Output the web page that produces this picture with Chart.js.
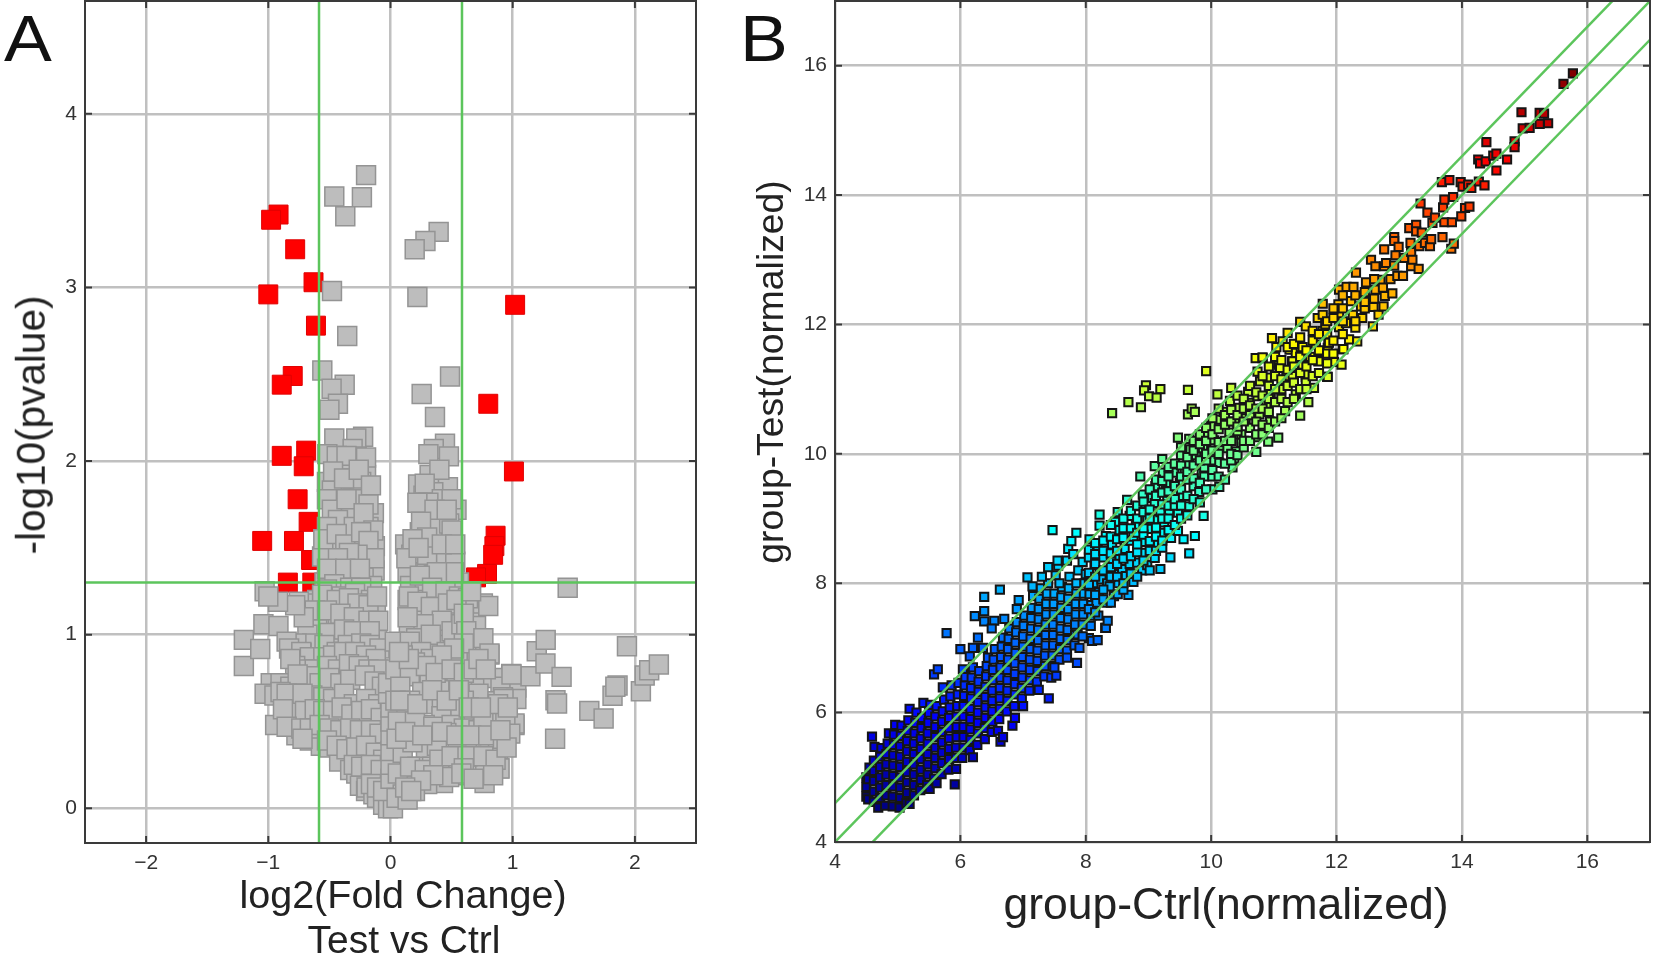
<!DOCTYPE html>
<html>
<head>
<meta charset="utf-8">
<title>Volcano plot and scatter plot</title>
<script src="https://cdn.jsdelivr.net/npm/chart.js@4/dist/chart.umd.min.js"></script>
<style>
  html, body { margin: 0; padding: 0; background: #fff; }
  body { width: 1654px; height: 955px; position: relative; overflow: hidden; font-family: "Liberation Sans", Arial, sans-serif; color: #222; }
  canvas { position: absolute; top: 0; }
  #volcano { left: 0; }
  #scatter { left: 720px; }
  .panel { position: absolute; top: -3px; font-size: 64px; line-height: 84px; color: #111; transform: scaleX(1.12); transform-origin: left top; }
  .title { position: absolute; line-height: 1; white-space: nowrap; transform: translateX(-50%); }
  .title.side { transform: translate(-50%, -50%) rotate(-90deg); }
</style>
</head>
<body>
<canvas id="volcano" width="720" height="955"></canvas>
<canvas id="scatter" width="934" height="955"></canvas>
<div class="panel" style="left:4px">A</div>
<div class="panel" style="left:740px">B</div>
<div class="title" style="left:403px;top:875px;font-size:39.5px">log2(Fold Change)</div>
<div class="title" style="left:404px;top:920px;font-size:39px">Test vs Ctrl</div>
<div class="title side" style="left:31px;top:425px;font-size:40.5px">-log10(pvalue)</div>
<div class="title" style="left:1226px;top:882px;font-size:44.5px">group-Ctrl(normalized)</div>
<div class="title side" style="left:771px;top:372px;font-size:37.3px">group-Test(normalized)</div>
<script>
// Panel A ticks and cut-offs
const foldTicks = [-2, -1, 0, 1, 2];
const pvalueTicks = [0, 1, 2, 3, 4];
const foldCutLeft = [[-0.585, -0.2], [-0.585, 4.65]];
const foldCutRight = [[0.585, -0.2], [0.585, 4.65]];
const pvalueCut = [[-2.5, 1.3], [2.5, 1.3]];

// Panel A: significant genes, [log2 fold change, -log10 p]
const redGenes = [
  [-0.916,3.42],[-0.977,3.39],[-0.78,3.22],[-1.0,2.96],[-0.63,3.03],[-0.61,2.78],[-0.80,2.49],[-0.89,2.44],
  [-0.69,2.06],[-0.89,2.03],[-0.71,1.97],[-0.76,1.78],[-0.67,1.65],[-1.05,1.54],[-0.79,1.54],[-0.65,1.43],
  [-0.84,1.30],[-0.64,1.30],[1.02,2.90],[0.80,2.33],[1.01,1.94],[0.86,1.57],[0.85,1.51],[0.84,1.46],
  [0.79,1.35],[0.70,1.33]
];

// Panel A: all the other genes
const greyGenes = [
  // top outliers
  [-0.20,3.647],[-0.46,3.524],[-0.234,3.52],[-0.37,3.41],[0.394,3.32],[0.286,3.267],[0.198,3.22],[-0.479,2.98],
  [0.22,2.945],[-0.354,2.72],[-0.558,2.522],[-0.375,2.44],[-0.482,2.417],[-0.43,2.33],[-0.50,2.296],[0.487,2.487],
  [0.255,2.386],[0.364,2.254],
  // left column
  [-0.46,2.13],[-0.224,2.14],[-0.28,2.13],[-0.31,2.07],[-0.517,2.04],[-0.278,2.027],[-0.30,2.0],[-0.43,1.95],
  [-0.37,1.98],[-0.2,1.92],[-0.24,1.88],[-0.52,1.88],[-0.386,1.84],[-0.25,1.86],[-0.31,1.9],[-0.48,1.83],
  [-0.435,1.76],[-0.30,1.77],[-0.23,1.78],[-0.4,1.73],[-0.136,1.70],[-0.25,1.66],[-0.38,1.64],[-0.33,1.68],
  [-0.18,1.62],[-0.47,1.66],[-0.52,1.53],[-0.264,1.53],[-0.128,1.51],[-0.40,1.5],[-0.33,1.56],[-0.47,1.48],
  [-0.2,1.46],[-0.473,1.40],[-0.32,1.42],[-0.18,1.42],[-0.56,1.45],[-0.34,1.33],[-0.29,1.31],[-0.13,1.37],
  [-0.42,1.35],[-0.54,1.3],[-0.22,1.33],[-0.15,1.28],
  [-0.44,2.03],[-0.36,2.03],[-0.2,2.02],[-0.47,1.94],[-0.38,1.9],[-0.26,1.95],[-0.16,1.86],[-0.18,1.75],[-0.52,1.78],
  [-0.48,1.72],[-0.36,1.78],[-0.43,1.66],[-0.3,1.62],[-0.22,1.7],[-0.14,1.6],[-0.52,1.62],[-0.55,1.55],[-0.44,1.58],
  [-0.37,1.52],[-0.24,1.59],[-0.18,1.54],[-0.13,1.44],[-0.27,1.46],[-0.34,1.47],[-0.43,1.44],[-0.52,1.38],[-0.37,1.38],
  [-0.25,1.38],[-0.46,1.29],[-0.33,1.27],[-0.24,1.27],
  [-0.52,1.26],[-0.40,1.22],[-0.29,1.24],[-0.16,1.2],[-0.60,1.2],[-0.48,1.15],[-0.35,1.16],[-0.22,1.13],
  [-0.12,1.14],[-0.345,1.10],[-0.54,1.08],[-0.43,1.06],[-0.26,1.05],[-0.14,1.05],[-0.64,1.1],[-0.70,1.18],
  [-0.645,1.07],[-0.75,1.19],[-0.58,0.98],[-0.43,0.96],[-0.33,0.98],[-0.2,0.98],[-0.11,0.97],[-0.5,0.92],
  [-0.26,0.905],[-0.14,0.905],[-0.6,0.88],
  [-0.56,1.23],[-0.44,1.2],[-0.34,1.21],[-0.27,1.18],[-0.18,1.17],[-0.11,1.22],[-0.62,1.14],[-0.52,1.14],[-0.41,1.12],
  [-0.3,1.1],[-0.18,1.08],[-0.1,1.08],[-0.6,1.03],[-0.5,1.01],[-0.38,1.03],[-0.3,1.02],[-0.17,1.02],[-0.68,1.0],
  [-0.64,0.95],[-0.54,0.94],[-0.44,0.9],[-0.35,0.94],[-0.24,0.95],[-0.17,0.94],[-0.09,0.92],[-0.77,0.95],[-0.71,1.1],[-0.78,1.17],
  // left wing
  [-1.2,0.97],[-1.2,0.82],[-1.04,1.06],[-1.066,0.918],[-0.917,1.05],[-0.85,0.96],[-1.03,1.25],[-0.92,1.19],
  [-1.0,1.22],[-0.727,0.895],[-0.74,0.84],
  // lower left
  [-0.83,0.92],[-0.73,0.9],[-0.66,0.87],[-0.55,0.87],[-0.47,0.88],[-0.38,0.9],[-0.29,0.9],[-0.2,0.88],[-0.12,0.86],
  [-0.78,0.82],[-0.7,0.8],[-0.62,0.8],[-0.52,0.82],[-0.43,0.8],[-0.34,0.83],[-0.26,0.82],[-0.18,0.8],[-0.1,0.8],
  [-0.98,0.72],[-0.9,0.72],[-0.82,0.7],[-0.74,0.74],[-0.66,0.76],[-0.58,0.72],[-0.5,0.75],[-0.41,0.72],[-0.33,0.74],
  [-0.21,0.765],[-0.13,0.73],[-0.07,0.7],
  [-1.03,0.66],[-0.95,0.65],[-0.876,0.62],[-0.8,0.63],[-0.72,0.6],[-0.64,0.65],[-0.55,0.64],[-0.47,0.63],[-0.38,0.66],
  [-0.3,0.6],[-0.2,0.63],[-0.1,0.6],[-0.05,0.55],
  [-0.944,0.48],[-0.84,0.53],[-0.76,0.52],[-0.68,0.5],[-0.6,0.55],[-0.52,0.52],[-0.44,0.5],[-0.36,0.55],[-0.28,0.5],
  [-0.19,0.52],[-0.12,0.5],[-0.05,0.45],
  [-0.77,0.42],[-0.69,0.44],[-0.62,0.43],[-0.55,0.42],[-0.46,0.42],[-0.38,0.38],[-0.3,0.4],[-0.22,0.41],[-0.14,0.38],
  [-0.07,0.35],[-0.03,0.3],
  [-0.66,0.39],[-0.57,0.36],[-0.5,0.35],[-0.42,0.3],[-0.34,0.3],[-0.26,0.3],[-0.18,0.32],[-0.1,0.27],[-0.04,0.22],
  [-0.42,0.27],[-0.33,0.22],[-0.28,0.2],[-0.2,0.22],[-0.13,0.18],[-0.07,0.16],[-0.03,0.12],
  [-0.25,0.13],[-0.2,0.1],[-0.196,0.12],[-0.14,0.08],[-0.08,0.07],[-0.03,0.05],[-0.02,0.08],
  [-0.11,0.06],[-0.06,0.02],[-0.02,0.0],[0.02,0.0],
  [-0.82,0.86],[-0.76,0.77],[-0.9,0.67],[-0.85,0.66],[-0.78,0.57],[-0.72,0.66],[-0.7,0.56],[-0.62,0.57],[-0.55,0.56],
  [-0.47,0.56],[-0.4,0.58],[-0.32,0.54],[-0.24,0.56],[-0.16,0.57],[-0.08,0.52],[-0.88,0.57],[-0.85,0.47],[-0.73,0.46],
  [-0.66,0.46],[-0.58,0.48],[-0.5,0.46],[-0.41,0.45],[-0.33,0.46],[-0.25,0.45],[-0.16,0.45],[-0.09,0.43],[-0.72,0.4],
  [-0.52,0.39],[-0.44,0.36],[-0.36,0.34],[-0.28,0.35],[-0.2,0.36],[-0.12,0.32],[-0.06,0.28],[-0.3,0.25],[-0.24,0.24],
  [-0.16,0.25],[-0.08,0.22],[-0.16,0.14],[-0.11,0.12],[-0.06,0.1],[0.0,0.17],[0.0,0.25],[0.0,0.33],[0.0,0.42],[0.0,0.5],
  [0.0,0.58],[-0.02,0.66],[-0.02,0.72],
  // right column
  [0.446,2.10],[0.354,2.07],[0.31,2.04],[0.478,2.027],[0.375,1.89],[0.32,1.92],[0.47,1.85],[0.226,1.865],[0.27,1.80],
  [0.35,1.82],[0.54,1.72],[0.29,1.70],[0.44,1.59],[0.24,1.59],[0.12,1.52],[0.35,1.51],[0.17,1.46],[0.48,1.51],
  [0.27,1.385],[0.46,1.355],[0.335,1.345],[0.21,1.26],[0.39,1.26],[0.51,1.28],[0.4,1.66],[0.34,1.62],[0.48,1.64],
  [0.2,1.42],[0.14,1.36],[0.4,1.44],[0.53,1.42],[0.3,1.46],[0.56,1.3],[0.16,1.28],[0.28,1.3],
  [0.26,1.145],[0.39,1.155],[0.185,1.126],[0.35,1.05],[0.2,1.06],[0.46,1.12],[0.53,1.08],[0.29,1.2],[0.14,1.2],
  [0.44,1.0],[0.27,0.99],[0.15,1.02],[0.55,0.98],[0.36,0.94],
  [0.40,1.95],[0.28,1.87],[0.42,1.78],[0.5,1.78],[0.31,1.76],[0.22,1.76],[0.36,1.72],[0.46,1.72],[0.25,1.65],[0.5,1.6],
  [0.3,1.56],[0.18,1.55],[0.13,1.44],[0.23,1.5],[0.42,1.52],[0.53,1.52],[0.52,1.36],[0.38,1.36],[0.24,1.34],[0.15,1.22],
  [0.34,1.27],[0.45,1.25],[0.56,1.22],[0.22,1.19],[0.33,1.16],[0.47,1.18],[0.42,1.08],[0.27,1.06],[0.14,1.1],[0.21,0.98],
  [0.33,1.0],[0.5,1.02],[0.58,1.06],
  // right wing
  [0.675,1.106],[0.756,1.18],[0.8,1.165],[0.70,1.05],[0.634,1.21],[0.54,1.2],[0.6,1.12],[0.62,1.02],[0.66,1.25],
  [0.81,0.885],[0.70,0.895],[0.62,0.88],[0.76,0.98],[0.81,0.891],[0.988,0.774],[1.03,0.695],[1.145,0.76],[1.197,0.905],
  [1.27,0.97],[1.268,0.834],[1.40,0.757],[1.35,0.622],[1.363,0.603],[1.347,0.40],[1.45,1.27],[1.627,0.561],[1.744,0.517],
  [1.817,0.648],[1.858,0.707],[1.84,0.70],[1.935,0.933],[2.049,0.674],[2.08,0.765],[2.117,0.795],[2.196,0.828],
  // lower right
  [0.035,0.96],[0.158,0.96],[0.25,0.9],[0.33,0.86],[0.46,0.9],[0.55,0.85],[0.1,0.88],[0.2,0.84],[0.04,0.8],
  [0.158,0.76],[0.32,0.76],[0.444,0.79],[0.65,0.69],[0.54,0.76],[0.74,0.76],[0.84,0.75],[0.9,0.7],[0.99,0.77],
  [0.92,0.64],[0.78,0.617],[1.03,0.63],[1.015,0.48],[0.925,0.63],[1.015,0.488],[0.72,0.66],[0.6,0.62],[0.5,0.68],
  [0.4,0.68],[0.26,0.67],[0.08,0.7],[0.16,0.62],[0.3,0.6],[0.42,0.6],[0.53,0.58],[0.68,0.54],[0.82,0.54],[0.94,0.5],
  [0.417,0.53],[0.28,0.48],[0.13,0.55],[0.06,0.5],[0.2,0.5],[0.35,0.47],[0.5,0.48],[0.6,0.46],[0.72,0.45],[0.86,0.44],
  [0.457,0.434],[0.29,0.34],[0.10,0.32],[0.18,0.38],[0.38,0.36],[0.55,0.36],[0.66,0.36],[0.78,0.36],[0.88,0.34],[0.05,0.4],
  [0.144,0.166],[0.06,0.2],[0.22,0.24],[0.34,0.24],[0.46,0.26],[0.58,0.28],[0.7,0.26],[0.81,0.26],[0.89,0.23],[0.892,0.229],
  [0.77,0.146],[0.70,0.22],[0.43,0.146],[0.52,0.2],[0.62,0.19],[0.3,0.14],[0.2,0.1],[0.1,0.08],[0.05,0.06],[0.14,0.05],
  [0.6,0.95],[0.52,0.92],[0.42,0.88],[0.29,0.82],[0.15,0.86],[0.07,0.9],[0.37,0.78],[0.5,0.8],[0.6,0.78],[0.68,0.8],
  [0.72,0.86],[0.78,0.8],[0.04,0.62],[0.08,0.62],[0.22,0.6],[0.34,0.68],[0.46,0.62],[0.56,0.68],[0.64,0.58],[0.76,0.5],
  [0.88,0.6],[0.74,0.58],[0.96,0.58],[0.12,0.44],[0.26,0.42],[0.42,0.44],[0.54,0.42],[0.66,0.42],[0.8,0.42],[0.92,0.4],
  [0.98,0.43],[0.16,0.24],[0.28,0.22],[0.4,0.28],[0.5,0.3],[0.63,0.3],[0.76,0.3],[0.86,0.28],[0.95,0.35],[0.9,0.45],
  [0.6,0.23],[0.48,0.18],[0.35,0.19],[0.25,0.16],[0.58,0.2],[0.68,0.17],[0.84,0.19],[0.12,0.12],[0.17,0.1]
];

// Panel B ticks and fold lines
const ctrlTicks = [4, 6, 8, 10, 12, 14, 16];
const testTicks = [4, 6, 8, 10, 12, 14, 16];
const equalLine = [[4, 4], [17, 17]];
const upperLine = [[4, 4.6], [17, 17.6]];
const lowerLine = [[4, 3.4], [17, 16.4]];

// Panel B: [group-Ctrl, group-Test]
const expression = [
  // dense low end
  [4.5,4.7],[4.5,4.85],[4.5,5.0],[4.53,4.66],[4.53,4.97],[4.55,5.15],[4.59,5.63],[4.63,5.47],
  [4.62,4.62],[4.62,4.78],[4.62,4.94],[4.62,5.1],[4.62,5.26],
  [4.69,4.53],[4.72,4.68],[4.72,4.84],[4.72,5.0],[4.72,5.16],[4.72,5.32],[4.74,5.45],
  [4.8,4.56],[4.82,4.72],[4.82,4.88],[4.82,5.04],[4.82,5.2],[4.82,5.36],[4.84,5.52],[4.86,5.68],
  [4.92,4.55],[4.92,4.7],[4.93,4.86],[4.93,5.02],[4.93,5.18],[4.93,5.34],[4.94,5.5],[4.94,5.66],[4.96,5.81],
  [5.03,4.53],[5.04,4.68],[5.04,4.84],[5.04,5.0],[5.04,5.16],[5.04,5.32],[5.04,5.48],[5.05,5.64],[5.06,5.8],
  [5.14,4.6],[5.15,4.76],[5.15,4.92],[5.15,5.08],[5.15,5.24],[5.15,5.4],[5.15,5.56],[5.16,5.72],[5.17,5.88],[5.19,6.06],
  [5.19,4.59],[5.26,4.72],[5.26,4.88],[5.26,5.04],[5.26,5.2],[5.26,5.36],[5.26,5.52],[5.27,5.68],[5.28,5.84],[5.3,6.0],
  [5.36,4.8],[5.37,4.96],[5.37,5.12],[5.37,5.28],[5.37,5.44],[5.37,5.6],[5.38,5.76],[5.39,5.92],[5.41,6.15],
  [5.47,4.88],[5.48,5.04],[5.48,5.2],[5.48,5.36],[5.48,5.52],[5.48,5.68],[5.49,5.84],[5.5,6.0],[5.51,4.82],[5.52,6.12],
  [5.58,4.98],[5.6,5.14],[5.6,5.3],[5.6,5.46],[5.6,5.62],[5.6,5.78],[5.6,5.94],[5.62,6.1],[5.62,4.91],[5.58,6.59],[5.64,6.67],
  [5.7,5.05],[5.71,5.22],[5.71,5.38],[5.71,5.54],[5.71,5.7],[5.71,5.86],[5.72,6.02],[5.72,6.39],[5.74,6.2],[5.78,7.23],
  [5.81,5.12],[5.82,5.28],[5.82,5.44],[5.82,5.6],[5.82,5.76],[5.82,5.92],[5.83,6.08],[5.84,6.25],[5.86,6.42],
  [5.91,4.89],[5.93,5.13],[5.93,5.3],[5.93,5.46],[5.94,5.62],[5.94,5.78],[5.94,5.94],[5.95,6.1],[5.96,6.28],[5.97,6.46],[6.0,6.98],
  [6.03,5.3],[6.05,5.46],[6.05,5.62],[6.05,5.78],[6.05,5.94],[6.05,6.1],[6.06,6.26],[6.07,6.42],[6.04,6.67],[6.08,6.55],
  [6.15,5.42],[6.16,5.58],[6.16,5.74],[6.16,5.9],[6.16,6.06],[6.17,6.22],[6.17,6.38],[6.18,6.54],[6.15,6.87],[6.2,5.31],[6.2,6.7],
  [6.23,7.49],[6.28,7.16],[6.27,5.5],[6.28,5.68],[6.28,5.84],[6.28,6.0],[6.28,6.16],[6.29,6.32],[6.29,6.48],[6.3,6.64],
  [6.38,7.79],[6.38,7.57],[6.38,7.41],[6.36,7.0],[6.39,5.59],[6.39,5.76],[6.4,5.92],[6.4,6.08],[6.4,6.24],[6.4,6.4],[6.41,6.56],[6.42,6.72],[6.44,6.85],
  [6.5,5.7],[6.51,5.86],[6.51,6.02],[6.51,6.18],[6.51,6.34],[6.52,6.5],[6.52,6.66],[6.53,6.82],[6.54,7.42],[6.55,6.98],
  [6.6,5.72],[6.63,7.90],[6.64,5.55],[6.68,5.62],[6.62,5.9],[6.63,6.06],[6.63,6.22],[6.63,6.38],[6.64,6.54],[6.64,6.7],[6.65,6.86],[6.66,7.02],[6.68,7.16],
  [6.74,6.02],[6.75,6.18],[6.75,6.34],[6.75,6.5],[6.75,6.66],[6.76,6.82],[6.76,6.98],[6.77,7.14],[6.78,7.3],[6.83,5.8],[6.87,5.92],
  [6.86,6.1],[6.87,6.28],[6.87,6.44],[6.87,6.6],[6.87,6.76],[6.88,6.92],[6.88,7.08],[6.89,7.24],[6.9,7.4],[6.93,7.74],
  [6.98,6.22],[6.98,6.38],[6.99,6.54],[6.99,6.7],[6.99,6.86],[7.0,7.02],[7.0,7.18],[7.01,7.34],[7.02,7.5],[7.07,8.09],
  [7.1,6.34],[7.11,6.5],[7.11,6.66],[7.11,6.82],[7.12,6.98],[7.12,7.14],[7.13,7.3],[7.13,7.46],[7.14,7.62],[7.16,7.8],
  [7.22,6.48],[7.23,6.64],[7.23,6.8],[7.23,6.96],[7.24,7.12],[7.24,7.28],[7.25,7.44],[7.25,7.6],[7.26,7.76],[7.28,7.92],
  [7.34,6.56],[7.35,6.72],[7.35,6.88],[7.36,7.04],[7.36,7.2],[7.36,7.36],[7.37,7.52],[7.37,7.68],[7.38,7.84],[7.41,6.22],[7.45,6.54],[7.4,8.0],
  [7.47,6.72],[7.47,6.88],[7.48,7.04],[7.48,7.2],[7.48,7.36],[7.49,7.52],[7.49,7.68],[7.5,7.84],[7.47,8.82],[7.53,6.57],[7.52,8.12],
  [7.58,6.82],[7.59,6.98],[7.6,7.14],[7.6,7.3],[7.6,7.46],[7.61,7.62],[7.61,7.78],[7.62,7.94],[7.56,8.27],[7.58,8.0],
  [7.7,6.96],[7.71,7.12],[7.71,7.28],[7.72,7.44],[7.72,7.6],[7.72,7.76],[7.73,7.92],[7.72,8.53],[7.77,8.65],[7.74,8.1],
  [7.82,7.04],[7.83,7.2],[7.83,7.36],[7.84,7.52],[7.84,7.68],[7.85,7.84],[7.85,8.0],[7.85,8.78],[7.86,6.77],[7.87,7.21],[7.88,8.2],
  [6.2,7.0],[6.5,7.3],[6.7,7.45],[6.9,7.6],[7.15,7.95],[7.3,8.1],[7.4,8.25],[7.55,8.35],[7.7,8.35],[7.8,8.45],
  [7.0,6.1],[7.25,6.35],[7.5,6.7],[7.7,6.85],[7.9,7.0],[8.05,7.15],
  // cyan part
  [7.95,7.18],[7.95,7.36],[7.96,7.52],[7.96,7.68],[7.97,7.84],[7.95,8.33],[8.0,8.14],[7.98,8.0],[8.06,7.83],[8.06,8.68],
  [8.08,7.34],[8.09,7.5],[8.09,7.66],[8.1,7.11],[8.12,8.0],[8.14,8.28],[8.17,7.7],[8.19,7.12],[8.19,8.53],[8.22,8.89],[8.22,9.06],
  [8.2,7.5],[8.21,7.86],[8.22,8.16],[8.25,8.06],[8.27,8.4],[8.31,7.31],[8.32,7.31],[8.32,8.73],[8.34,7.7],[8.35,7.42],[8.34,8.0],
  [8.38,7.95],[8.43,8.34],[8.42,8.6],[8.45,7.8],[8.47,8.95],[8.46,8.14],[8.51,7.83],[8.51,9.1],[8.52,8.0],[8.54,8.82],[8.54,8.4],
  [8.58,8.22],[8.62,8.53],[8.64,8.11],[8.66,9.29],[8.68,7.82],[8.7,9.04],[8.7,8.3],[8.72,8.66],[8.76,8.72],[8.76,8.02],[8.8,8.9],
  [8.82,8.32],[8.87,9.65],[8.88,9.19],[8.9,8.2],[8.91,9.37],[8.93,8.47],[8.93,8.64],[8.98,9.0],[8.98,8.28],[9.02,8.84],[9.02,8.2],
  [9.06,9.32],[9.1,8.39],[9.1,9.24],[9.1,9.81],[9.11,9.50],[9.12,8.99],[9.15,8.6],[9.19,8.22],[9.19,9.1],[9.21,8.78],[9.22,9.92],
  [9.23,9.71],[9.25,8.94],[9.28,9.55],[9.3,9.28],[9.33,9.09],[9.35,8.40],[9.36,8.7],[9.41,9.71],[9.42,9.4],[9.47,9.09],[9.47,8.81],
  [9.47,10.25],[9.5,9.55],[9.52,9.35],[9.52,9.98],[9.56,8.68],[9.58,9.75],[9.63,10.61],[9.63,10.99],[9.65,8.46],[9.65,9.19],[9.65,9.84],
  [9.65,10.23],[9.67,10.07],[9.69,10.70],[9.72,9.5],[9.74,8.73],[9.74,10.65],[9.76,9.98],[9.81,9.41],[9.85,9.7],[9.87,10.09],[9.88,9.04],
  [9.89,9.79],[9.89,9.65],[9.92,11.28],[9.95,10.3],[10.0,10.43],[10.02,9.45],[10.03,9.9],[10.05,10.21],[10.1,10.92],[10.13,10.53],[10.13,9.86],
  [10.13,9.49],[10.18,10.1],[10.2,10.65],[10.26,10.09],[10.29,10.33],[10.3,10.82],[10.32,11.02],[10.34,9.79],[10.37,9.93],[10.4,10.04],[10.38,10.5],
  [10.45,10.71],[10.48,10.30],[10.48,10.17],[10.55,10.55],[10.59,10.96],[10.61,10.79],[10.62,10.4],[10.72,10.26],[10.72,10.03],[10.71,11.48],[10.74,10.89],
  [10.74,11.27],[10.77,10.61],[10.78,11.12],[10.82,11.48],[10.82,11.49],[10.88,10.75],[10.9,11.18],[10.91,10.19],[10.94,10.50],[10.95,10.95],[10.97,11.79],
  [11.03,11.41],[11.04,11.65],[11.07,10.25],[11.08,11.38],[11.09,11.33],[11.1,11.33],[11.14,11.74],[11.12,11.0],[11.18,10.66],[11.2,11.2],[11.22,11.87],
  [11.25,11.61],[11.29,11.43],[11.3,11.2],[11.3,11.43],[11.35,11.56],[11.35,10.92],[11.42,12.04],[11.42,10.59],[11.43,11.65],[11.46,11.38],[11.46,11.65],
  [11.51,11.19],[11.51,11.97],[11.51,11.23],[11.51,11.10],[11.55,10.80],[11.58,11.5],[11.64,11.02],[11.67,11.69],[11.7,12.10],[11.71,11.45],[11.71,11.43],
  [11.78,12.32],[11.78,12.15],[11.78,11.90],[11.82,12.0],[11.85,11.19],[11.86,11.64],[11.86,11.19],[11.87,11.72],[11.88,11.72],[11.96,11.42],[12.03,12.31],
  [12.04,12.54],[12.04,12.15],[12.04,11.96],[12.08,11.38],[12.1,11.62],[12.11,11.62],[12.15,12.02],[12.16,12.58],[12.2,11.77],[12.23,12.36],[12.26,12.15],
  [12.27,12.58],[12.31,12.80],[12.33,11.74],[12.39,12.28],[12.41,12.10],[12.47,12.65],[12.55,13.00],[12.58,11.97],[12.59,12.27],[12.62,12.90],[12.62,12.54],
  [12.67,12.15],[12.70,12.69],[12.74,12.57],[12.75,12.28],[12.76,13.16],[12.76,12.90],[12.77,12.44],[12.79,12.95],[12.86,12.70],[12.89,12.48],[12.92,13.35],
  [12.92,13.29],[12.92,12.91],[12.94,13.07],[12.97,12.75],[12.99,13.20],[13.06,12.75],[13.08,13.03],[13.16,13.49],[13.18,13.26],[13.19,13.12],[13.19,12.90],
  [13.21,13.00],[13.27,13.54],[13.27,13.44],[13.31,12.86],[13.32,13.21],[13.34,13.87],[13.36,13.42],[13.41,13.26],[13.45,13.73],[13.49,13.21],[13.51,13.32],
  [13.53,13.57],[13.57,13.65],[13.68,14.20],[13.69,13.35],[13.70,13.81],[13.72,13.93],[13.72,13.58],[13.80,14.23],[13.83,13.17],[13.84,13.58],[13.86,13.97],
  [13.87,13.25],[13.98,14.20],[13.99,13.67],[14.01,14.13],[14.05,13.80],[14.10,14.16],[14.12,13.82],[14.15,14.11],[14.26,14.55],[14.27,14.21],[14.29,14.49],
  [14.36,14.15],[14.38,14.52],[14.39,14.82],[14.50,14.61],[14.55,14.64],[14.55,14.38],[14.72,14.55],[14.84,14.83],[14.84,14.74],[14.95,15.28],[14.97,15.03],
  [15.08,15.04],[15.24,15.27],[15.24,15.10],[15.31,15.26],[15.375,15.11],[15.62,15.72],[15.77,15.88],
  // outlier group above the band
  [8.96,11.06],[8.93,10.98],[9.19,11.0],[9.01,10.89],[9.13,10.87],[8.68,10.80],[8.88,10.72],[8.42,10.63],
  // middle of the band
  [8.05,7.6],[8.05,7.98],[8.05,8.16],[8.05,8.4],[8.05,8.52],[8.15,7.55],[8.15,7.82],[8.15,8.1],[8.15,8.3],[8.15,8.45],[8.15,8.62],
  [8.28,7.75],[8.28,7.9],[8.28,8.2],[8.28,8.5],[8.28,8.66],[8.4,7.7],[8.4,8.1],[8.4,8.25],[8.4,8.46],[8.4,8.72],[8.4,8.9],
  [8.5,8.1],[8.5,8.3],[8.5,8.5],[8.5,8.68],[8.6,7.9],[8.6,8.0],[8.6,8.38],[8.6,8.7],[8.6,8.85],[8.6,9.0],
  [8.72,8.15],[8.72,8.42],[8.72,8.85],[8.72,9.12],[8.82,8.1],[8.82,8.48],[8.82,8.6],[8.82,8.78],[8.82,9.0],[8.82,9.2],
  [8.92,8.35],[8.92,8.75],[8.92,8.85],[8.92,9.1],[8.92,9.26],[9.02,8.5],[9.02,8.65],[9.02,9.0],[9.02,9.14],[9.02,9.45],
  [9.12,8.5],[9.12,8.72],[9.12,8.86],[9.12,9.35],[9.12,9.6],[9.22,8.55],[9.22,8.66],[9.22,9.0],[9.22,9.22],[9.22,9.4],[9.22,9.58],
  [9.32,8.82],[9.32,9.0],[9.32,9.2],[9.32,9.42],[9.32,9.65],[9.32,9.8],[9.42,8.9],[9.42,9.2],[9.42,9.3],[9.42,9.5],[9.42,9.85],
  [9.52,9.0],[9.52,9.2],[9.52,9.45],[9.52,9.65],[9.52,9.82],[9.52,10.1],[9.62,9.05],[9.62,9.35],[9.62,9.6],[9.62,9.72],[9.62,9.95],
  [9.72,9.3],[9.72,9.62],[9.72,9.82],[9.72,10.05],[9.72,10.2],[9.82,9.25],[9.82,9.55],[9.82,9.9],[9.82,10.15],[9.82,10.3],
  [9.92,9.45],[9.92,9.9],[9.92,10.0],[9.92,10.2],[9.92,10.4],[10.02,9.65],[10.02,9.75],[10.02,10.05],[10.02,10.3],[10.02,10.55],
  [10.12,9.65],[10.12,10.0],[10.12,10.18],[10.12,10.38],[10.12,10.7],[10.22,9.6],[10.22,9.85],[10.22,10.2],[10.22,10.45],[10.22,10.6],
  [10.32,9.9],[10.32,10.0],[10.32,10.2],[10.32,10.5],[10.32,10.68],[10.42,9.98],[10.42,10.35],[10.42,10.42],[10.42,10.6],[10.42,10.9],
  [10.52,10.1],[10.52,10.2],[10.52,10.5],[10.52,10.7],[10.52,10.85],[10.62,10.2],[10.62,10.6],[10.62,10.75],[10.62,11.05],
  [10.72,10.3],[10.72,10.5],[10.72,10.7],[10.72,10.95],[10.82,10.3],[10.82,10.45],[10.82,10.7],[10.82,10.9],[10.82,11.2],
  [10.92,10.4],[10.92,10.65],[10.92,10.85],[10.92,11.05],[10.92,11.35],[11.02,10.5],[11.02,10.8],[11.02,11.0],[11.02,11.2],[11.02,11.5],
  [11.12,10.55],[11.12,10.85],[11.12,11.15],[11.12,11.45],[11.22,10.8],[11.22,11.05],[11.22,11.3],[11.22,11.65],
  [11.32,10.85],[11.32,11.1],[11.32,11.35],[11.32,11.7],[11.42,11.0],[11.42,11.25],[11.42,11.5],[11.42,11.8],
  [11.52,11.0],[11.52,11.35],[11.52,11.6],[11.62,11.2],[11.62,11.45],[11.62,11.75],[11.62,11.9],[11.72,11.25],[11.72,11.6],[11.72,11.85],
  [11.85,11.4],[11.85,11.55],[11.85,11.85],[11.85,12.05],[11.95,11.75],[11.95,11.55],[11.95,12.1],[11.95,12.25],
  [12.1,11.85],[12.1,12.05],[12.1,12.25],[12.1,12.45],[12.3,11.95],[12.3,12.05],[12.3,12.45],[12.45,12.25],[12.45,12.5],[12.45,12.35],[12.6,12.4],[12.6,12.7]
];

// jet colour map across the test range
const testMin = 4.5, testMax = 15.9;
function jet(v) {
  const t = (v - testMin) / (testMax - testMin);
  const clip = c => Math.round(255 * Math.max(0, Math.min(1, c)));
  return `rgb(${clip(Math.min(4*t - 1.5, -4*t + 4.5))},${clip(Math.min(4*t - 0.5, -4*t + 3.5))},${clip(Math.min(4*t + 0.5, -4*t + 2.5))})`;
}

const toXY = rows => rows.map(r => ({ x: r[0], y: r[1] }));
const FONT = '"Liberation Sans", Arial, sans-serif';
const GREEN = '#5cc55c';
const GRID = '#c0c0c0';
const AXIS = '#3a3a3a';

// closed frame and short inward ticks like the original plots
const framePlugin = {
  id: 'frame',
  afterDraw(chart) {
    const { ctx, chartArea: a, scales } = chart;
    ctx.save();
    ctx.strokeStyle = AXIS;
    ctx.lineWidth = 2;
    ctx.strokeRect(a.left, a.top, a.right - a.left, a.bottom - a.top);
    ctx.beginPath();
    scales.x.ticks.forEach(t => {
      const px = scales.x.getPixelForValue(t.value);
      ctx.moveTo(px, a.bottom); ctx.lineTo(px, a.bottom - 7);
      ctx.moveTo(px, a.top); ctx.lineTo(px, a.top + 7);
    });
    scales.y.ticks.forEach(t => {
      const py = scales.y.getPixelForValue(t.value);
      ctx.moveTo(a.left, py); ctx.lineTo(a.left + 7, py);
      ctx.moveTo(a.right, py); ctx.lineTo(a.right - 7, py);
    });
    ctx.stroke();
    ctx.restore();
  }
};

function lineSet(rows) {
  return { type: 'scatter', data: toXY(rows), showLine: true, pointRadius: 0, borderColor: GREEN, borderWidth: 2.5, order: 0 };
}

// axis with fixed outer size so the plot box lands where the original has it
function axis(range, tickValues, tickSize, size) {
  return {
    type: 'linear',
    min: range[0],
    max: range[1],
    afterBuildTicks: s => { s.ticks = tickValues.map(v => ({ value: v })); },
    afterFit: s => {
      if (s.isHorizontal()) s.height = size; else s.width = size;
      s.paddingTop = s.paddingBottom = s.paddingLeft = s.paddingRight = 0;
    },
    grid: { color: GRID, lineWidth: 2.5, drawTicks: false },
    border: { display: false },
    ticks: {
      padding: 8,
      color: '#333',
      maxRotation: 0,
      font: { family: FONT, size: tickSize },
      callback: v => String(v).replace('-', '\u2212')
    }
  };
}

const baseOptions = {
  responsive: false,
  animation: false,
  devicePixelRatio: 1,
  plugins: { legend: { display: false }, tooltip: { enabled: false } }
};

new Chart(document.getElementById('volcano'), {
  type: 'scatter',
  plugins: [framePlugin],
  data: {
    datasets: [
      lineSet(foldCutLeft),
      lineSet(foldCutRight),
      lineSet(pvalueCut),
      { data: toXY(greyGenes), pointStyle: 'rect', pointRadius: 13.4, backgroundColor: '#bdbdbd', borderColor: '#949494', borderWidth: 1.5, order: 1 },
      { data: toXY(redGenes), pointStyle: 'rect', pointRadius: 13.4, backgroundColor: '#ff0000', borderColor: '#e00000', borderWidth: 1, order: 2 }
    ]
  },
  options: {
    ...baseOptions,
    layout: { autoPadding: false, padding: { top: 1, right: 24, left: 0, bottom: 0 } },
    scales: {
      x: axis([-2.5, 2.5], foldTicks, 21, 112),
      y: axis([-0.2, 4.65], pvalueTicks, 21, 85)
    }
  }
});

new Chart(document.getElementById('scatter'), {
  type: 'scatter',
  plugins: [framePlugin],
  data: {
    datasets: [
      lineSet(equalLine),
      lineSet(upperLine),
      lineSet(lowerLine),
      {
        data: toXY(expression),
        pointStyle: 'rect',
        pointRadius: 5.8,
        backgroundColor: c => jet(c.raw ? c.raw.y : testMin),
        borderColor: '#151515',
        borderWidth: 2,
        order: 1
      }
    ]
  },
  options: {
    ...baseOptions,
    layout: { autoPadding: false, padding: { top: 1, right: 4, left: 0, bottom: 0 } },
    scales: {
      x: axis([4, 17], ctrlTicks, 21, 113),
      y: axis([4, 17], testTicks, 21, 115)
    }
  }
});
</script>
</body>
</html>
